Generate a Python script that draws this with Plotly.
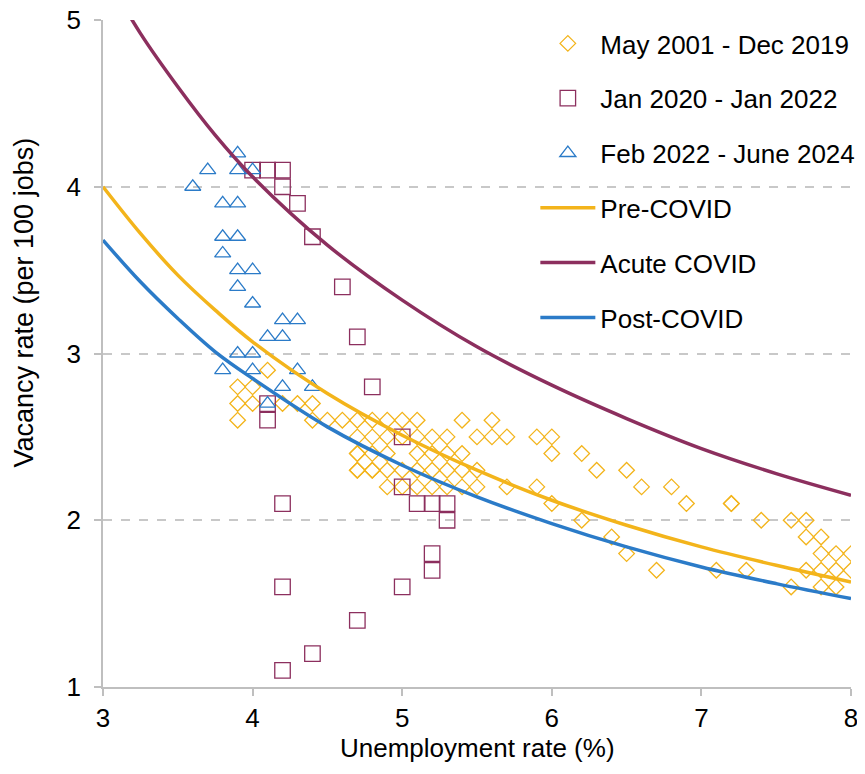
import plotly.graph_objects as go

# ---- Data ----
pre_u = [3.9, 4.0, 4.1, 3.9, 4.0, 4.2, 4.3, 4.4, 3.9, 4.4, 4.5, 4.6,
         4.7, 4.8, 4.9, 5.0, 5.1, 5.4, 5.6,
         4.7, 4.8, 4.9, 5.0, 5.1, 5.2, 5.3, 5.5, 5.6, 5.7, 5.9, 6.0,
         4.7, 4.8, 4.9, 5.1, 5.2, 5.3, 5.4, 6.0, 6.2, 4.7,
         4.7, 4.8, 4.9, 5.0, 5.1, 5.2, 5.3, 5.4, 5.5, 6.3, 6.5, 4.7, 4.8,
         4.9, 5.0, 5.1, 5.2, 5.3, 5.4, 5.5, 5.7, 5.9, 6.6, 6.8,
         6.0, 6.9, 7.2, 7.2,
         6.2, 7.4, 7.6, 7.7,
         6.4, 7.7, 7.8,
         6.5, 7.8, 7.9, 8.0,
         6.7, 7.1, 7.3, 7.7, 7.8, 7.9, 8.0,
         7.6, 7.8, 7.9]
pre_v = [2.8, 2.8, 2.9, 2.7, 2.7, 2.7, 2.7, 2.7, 2.6, 2.6, 2.6, 2.6,
         2.6, 2.6, 2.6, 2.6, 2.6, 2.6, 2.6,
         2.5, 2.5, 2.5, 2.5, 2.5, 2.5, 2.5, 2.5, 2.5, 2.5, 2.5, 2.5,
         2.4, 2.4, 2.4, 2.4, 2.4, 2.4, 2.4, 2.4, 2.4, 2.4,
         2.3, 2.3, 2.3, 2.3, 2.3, 2.3, 2.3, 2.3, 2.3, 2.3, 2.3, 2.3, 2.3,
         2.2, 2.2, 2.2, 2.2, 2.2, 2.2, 2.2, 2.2, 2.2, 2.2, 2.2,
         2.1, 2.1, 2.1, 2.1,
         2.0, 2.0, 2.0, 2.0,
         1.9, 1.9, 1.9,
         1.8, 1.8, 1.8, 1.8,
         1.7, 1.7, 1.7, 1.7, 1.7, 1.7, 1.7,
         1.6, 1.6, 1.6]

acute_u = [4.0, 4.1, 4.2, 4.2, 4.3, 4.4, 4.6, 4.7, 4.8, 4.1, 4.1, 5.0, 5.0,
           4.2, 5.1, 5.2, 5.3, 5.3, 5.2, 5.2, 4.2, 5.0, 4.7, 4.4, 4.2]
acute_v = [4.1, 4.1, 4.1, 4.0, 3.9, 3.7, 3.4, 3.1, 2.8, 2.7, 2.6, 2.5, 2.2,
           2.1, 2.1, 2.1, 2.1, 2.0, 1.8, 1.7, 1.6, 1.6, 1.4, 1.2, 1.1]

post_u = [3.9, 3.7, 3.9, 4.0, 3.6, 3.8, 3.9, 3.8, 3.9, 3.8,
          3.9, 4.0, 3.9, 4.0, 4.2, 4.3, 4.1, 4.2, 3.9, 4.0,
          3.8, 4.0, 4.3, 4.2, 4.4, 4.1]
post_v = [4.2, 4.1, 4.1, 4.1, 4.0, 3.9, 3.9, 3.7, 3.7, 3.6,
          3.5, 3.5, 3.4, 3.3, 3.2, 3.2, 3.1, 3.1, 3.0, 3.0,
          2.9, 2.9, 2.9, 2.8, 2.8, 2.7]

curve_u = [3.0, 3.25, 3.5, 3.75, 4.0, 4.5, 5.0, 5.5, 6.0, 6.5, 7.0, 7.5, 8.0]
curve_pre = [4.00, 3.72, 3.47, 3.26, 3.07, 2.76, 2.51, 2.30, 2.12, 1.97, 1.84, 1.73, 1.63]
curve_acute = [5.30, 4.92, 4.60, 4.31, 4.06, 3.65, 3.32, 3.04, 2.81, 2.61, 2.43, 2.28, 2.15]
curve_post = [3.68, 3.43, 3.21, 3.01, 2.85, 2.56, 2.33, 2.14, 1.98, 1.84, 1.72, 1.62, 1.53]

x_ticks = [3, 4, 5, 6, 7, 8]
y_ticks = [1, 2, 3, 4, 5]

YELLOW = "#F3B41B"
PURPLE = "#8C2F5E"
BLUE = "#2B7BC8"
FONT = "Liberation Sans, Arial, sans-serif"
FS = 26

fig = go.Figure()

fig.add_trace(go.Scatter(
    x=pre_u, y=pre_v, mode="markers", name="May 2001 - Dec 2019", legendgroup="g1",
    marker=dict(symbol="diamond-open", size=12, color=YELLOW, line=dict(width=1.3, color=YELLOW)),
))
fig.add_trace(go.Scatter(
    x=acute_u, y=acute_v, mode="markers", name="Jan 2020 - Jan 2022", legendgroup="g2",
    marker=dict(symbol="square-open", size=15.5, color=PURPLE, line=dict(width=1.3, color=PURPLE)),
))
fig.add_trace(go.Scatter(
    x=post_u, y=post_v, mode="markers", name="Feb 2022 - June 2024", legendgroup="g3",
    marker=dict(symbol="triangle-up-open", size=14, color=BLUE, line=dict(width=1.3, color=BLUE)),
))
fig.add_trace(go.Scatter(
    x=curve_u, y=curve_pre, mode="lines", name="Pre-COVID", legendgroup="g4",
    line=dict(color=YELLOW, width=3.5, shape="spline"),
))
fig.add_trace(go.Scatter(
    x=curve_u, y=curve_acute, mode="lines", name="Acute COVID", legendgroup="g5",
    line=dict(color=PURPLE, width=3.5, shape="spline"),
))
fig.add_trace(go.Scatter(
    x=curve_u, y=curve_post, mode="lines", name="Post-COVID", legendgroup="g6",
    line=dict(color=BLUE, width=3.5, shape="spline"),
))

# The page body has an 8px default margin, so the figure is sized/offset to compensate.
fig.update_layout(
    width=857, height=766,
    margin=dict(l=95, r=14, t=12, b=87, autoexpand=False),
    paper_bgcolor="white", plot_bgcolor="white",
    font=dict(family=FONT, size=FS, color="#000000"),
    showlegend=True,
    legend=dict(
        x=0.578, y=1.0, xanchor="left", yanchor="top",
        bgcolor="rgba(0,0,0,0)", font=dict(size=FS),
        traceorder="grouped", tracegroupgap=18, itemwidth=55,
    ),
    xaxis=dict(
        range=[3, 8], tickvals=x_ticks, showgrid=False, zeroline=False, automargin=False,
        showline=True, linecolor="#BFBFBF", linewidth=1.5,
        ticks="outside", tickcolor="#BFBFBF", ticklen=7, tickwidth=1.5,
        ticklabeloverflow="allow",
        tickfont=dict(size=FS),
    ),
    yaxis=dict(
        range=[1, 5], tickvals=y_ticks, showgrid=True, gridcolor="#C8C8C8",
        griddash="dash", gridwidth=1.5, zeroline=False, automargin=False,
        showline=True, linecolor="#BFBFBF", linewidth=1.5,
        ticks="outside", tickcolor="#BFBFBF", ticklen=7, tickwidth=1.5,
        ticklabelstandoff=8, ticklabeloverflow="allow",
        tickfont=dict(size=FS),
    ),
    annotations=[
        dict(
            text="Vacancy rate (per 100 jobs)", textangle=-90,
            xref="paper", yref="paper", x=-0.106, y=0.576,
            xanchor="center", yanchor="middle", showarrow=False,
            font=dict(size=27, family=FONT, color="#000000"),
        ),
        dict(
            text="Unemployment rate (%)",
            xref="paper", yref="paper", x=0.5, y=-0.092,
            xanchor="center", yanchor="middle", showarrow=False,
            font=dict(size=FS, family=FONT, color="#000000"),
        ),
    ],
)

fig.write_html("out.html")
